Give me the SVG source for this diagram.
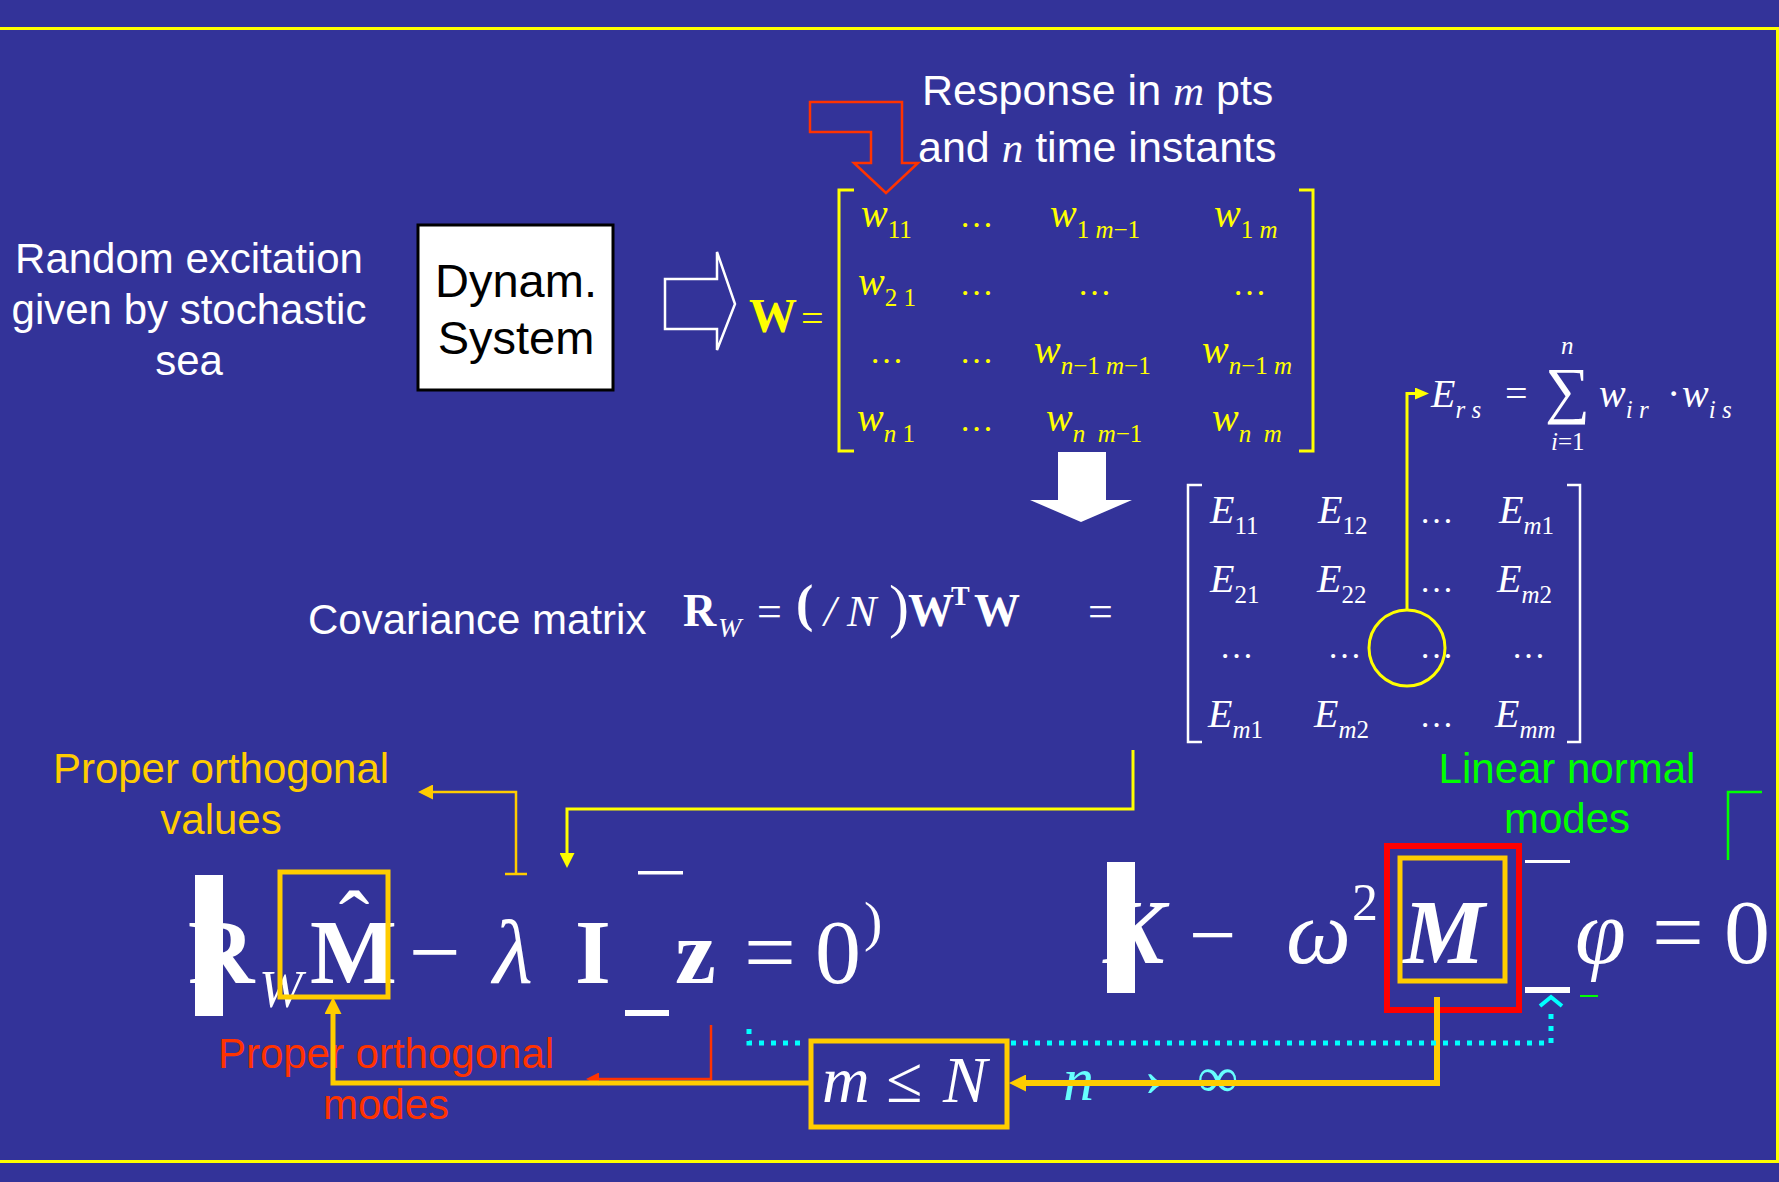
<svg xmlns="http://www.w3.org/2000/svg" width="1779" height="1182" viewBox="0 0 1779 1182">
<style>
.sans{font-family:"Liberation Sans",Arial,sans-serif}
.serif{font-family:"Liberation Serif","Times New Roman",serif}
.it{font-style:italic}
.up{font-style:normal}
.bd{font-weight:bold}
.lab{font-size:42px}
.wm{fill:#ffff00;font-size:40px;font-style:italic}
.em{fill:#ffffff;font-size:40px;font-style:italic}
.sb{font-size:25px;font-style:normal}
.dots{font-size:34px}
.big{font-size:92px;fill:#fff}
</style>
<defs>
<marker id="mY" viewBox="0 0 15 15" refX="0" refY="7.5" markerWidth="15" markerHeight="15" markerUnits="userSpaceOnUse" orient="auto"><path d="M0,0 L15,7.5 L0,15 z" fill="#ffff00"/></marker>
<marker id="mYs" viewBox="0 0 14 12" refX="0" refY="6" markerWidth="14" markerHeight="12" markerUnits="userSpaceOnUse" orient="auto"><path d="M0,0 L14,6 L0,12 z" fill="#ffff00"/></marker>
<marker id="mOs" viewBox="0 0 15 15" refX="0" refY="7.5" markerWidth="15" markerHeight="15" markerUnits="userSpaceOnUse" orient="auto"><path d="M0,0 L15,7.5 L0,15 z" fill="#ffcc00"/></marker>
<marker id="mO" viewBox="0 0 17 17" refX="0" refY="8.5" markerWidth="17" markerHeight="17" markerUnits="userSpaceOnUse" orient="auto"><path d="M0,0 L17,8.5 L0,17 z" fill="#ffcc00"/></marker>
<marker id="mR" viewBox="0 0 13 13" refX="0" refY="6.5" markerWidth="13" markerHeight="13" markerUnits="userSpaceOnUse" orient="auto"><path d="M0,0 L13,6.5 L0,13 z" fill="#ff3300"/></marker>
</defs>
<rect x="0" y="0" width="1779" height="1182" fill="#333399"/>
<path d="M0,28.5 H1777.5 V1161.5 H0" fill="none" stroke="#ffff00" stroke-width="3"/>

<g id="excitation-text" class="sans lab" fill="#fff" text-anchor="middle">
<text x="189" y="273">Random excitation</text>
<text x="189" y="324">given by stochastic</text>
<text x="189" y="375">sea</text>
</g>

<g id="dynam-system">
<rect x="418" y="225" width="195" height="165" fill="#fff" stroke="#000" stroke-width="3"/>
<text class="sans" x="516" y="297" font-size="47" text-anchor="middle" fill="#000">Dynam.</text>
<text class="sans" x="516" y="354" font-size="47" text-anchor="middle" fill="#000">System</text>
</g>

<g id="hollow-arrow">
<polygon points="665,279 717,279 717,252 735,304 717,350 717,329 665,329" fill="none" stroke="#fff" stroke-width="2.5"/>
</g>

<g id="response-label" class="sans" font-size="43" fill="#fff">
<text x="922" y="105">Response in <tspan class="serif it">m</tspan> pts</text>
<text x="918" y="162">and <tspan class="serif it">n</tspan> time instants</text>
</g>

<g id="red-arrow">
<polygon points="810,102 902,102 902,163 918,163 886,193 854,163 871,163 871,132 810,132" fill="none" stroke="#ff3300" stroke-width="2.5"/>
</g>

<g id="w-matrix" class="serif">
<text x="749" y="332" font-size="48" font-weight="bold" fill="#ffff00">W</text>
<text x="801" y="332" font-size="40" fill="#ffff00">=</text>
<path d="M854,190 H839 V451 H854 M1299,190 H1313 V451 H1299" fill="none" stroke="#ffff00" stroke-width="3"/>
<text class="wm" x="861" y="227">w<tspan class="sb" dy="11">11</tspan></text>
<text class="wm dots up" x="962" y="227">…</text>
<text class="wm" x="1050" y="227">w<tspan class="sb" dy="11">1 <tspan class="it">m</tspan>−1</tspan></text>
<text class="wm" x="1214" y="227">w<tspan class="sb" dy="11">1 <tspan class="it">m</tspan></tspan></text>
<text class="wm" x="858" y="295">w<tspan class="sb" dy="11">2 1</tspan></text>
<text class="wm dots up" x="962" y="295">…</text>
<text class="wm dots up" x="1080" y="295">…</text>
<text class="wm dots up" x="1235" y="295">…</text>
<text class="wm dots up" x="872" y="363">…</text>
<text class="wm dots up" x="962" y="363">…</text>
<text class="wm" x="1034" y="363">w<tspan class="sb" dy="11"><tspan class="it">n</tspan>−1 <tspan class="it">m</tspan>−1</tspan></text>
<text class="wm" x="1202" y="363">w<tspan class="sb" dy="11"><tspan class="it">n</tspan>−1 <tspan class="it">m</tspan></tspan></text>
<text class="wm" x="857" y="431">w<tspan class="sb" dy="11"><tspan class="it">n</tspan> 1</tspan></text>
<text class="wm dots up" x="962" y="431">…</text>
<text class="wm" x="1046" y="431">w<tspan class="sb" dy="11" xml:space="preserve"><tspan class="it">n</tspan>  <tspan class="it">m</tspan>−1</tspan></text>
<text class="wm" x="1212" y="431">w<tspan class="sb" dy="11" xml:space="preserve"><tspan class="it">n</tspan>  <tspan class="it">m</tspan></tspan></text>
</g>

<g id="down-arrow">
<polygon points="1058,452 1106,452 1106,500 1132,500 1081,522 1030,500 1058,500" fill="#fff"/>
</g>

<g id="covariance" fill="#fff">
<text class="sans lab" x="308" y="634">Covariance matrix</text>
<text class="serif bd" x="683" y="626" font-size="46">R</text>
<text class="serif it" x="718" y="637" font-size="28">W</text>
<text class="serif" x="757" y="626" font-size="44">=</text>
<text class="serif bd" x="796" y="621" font-size="52">(</text>
<text class="serif it" x="824" y="626" font-size="44">/</text>
<text class="serif it" x="847" y="626" font-size="44">N</text>
<text class="serif" x="889" y="626" font-size="60">)</text>
<text class="serif bd" x="908" y="626" font-size="46">W</text>
<text class="serif bd" x="951" y="605" font-size="28">T</text>
<text class="serif bd" x="974" y="626" font-size="46">W</text>
<text class="serif" x="1088" y="626" font-size="44">=</text>
</g>

<g id="e-matrix" class="serif">
<path d="M1202,485 H1188 V742 H1202 M1567,485 H1580 V742 H1567" fill="none" stroke="#fff" stroke-width="2.5"/>
<text class="em" x="1210" y="523">E<tspan class="sb" dy="11">11</tspan></text>
<text class="em" x="1318" y="523">E<tspan class="sb" dy="11">12</tspan></text>
<text class="em dots up" x="1422" y="523">…</text>
<text class="em" x="1499" y="523">E<tspan class="sb" dy="11"><tspan class="it">m</tspan>1</tspan></text>
<text class="em" x="1210" y="592">E<tspan class="sb" dy="11">21</tspan></text>
<text class="em" x="1317" y="592">E<tspan class="sb" dy="11">22</tspan></text>
<text class="em dots up" x="1422" y="592">…</text>
<text class="em" x="1497" y="592">E<tspan class="sb" dy="11"><tspan class="it">m</tspan>2</tspan></text>
<text class="em dots up" x="1222" y="658">…</text>
<text class="em dots up" x="1330" y="658">…</text>
<text class="em dots up" x="1422" y="658">…</text>
<text class="em dots up" x="1514" y="658">…</text>
<text class="em" x="1208" y="727">E<tspan class="sb" dy="11"><tspan class="it">m</tspan>1</tspan></text>
<text class="em" x="1314" y="727">E<tspan class="sb" dy="11"><tspan class="it">m</tspan>2</tspan></text>
<text class="em dots up" x="1422" y="727">…</text>
<text class="em" x="1495" y="727">E<tspan font-size="25" dy="11">mm</tspan></text>
<circle cx="1407" cy="648" r="38" fill="none" stroke="#ffff00" stroke-width="3"/>
</g>

<g id="ers-formula" class="serif" fill="#fff">
<text class="it" x="1431" y="407" font-size="40">E<tspan font-size="25" dy="11">r s</tspan></text>
<text x="1505" y="407" font-size="40">=</text>
<text x="1545" y="411" font-size="63">∑</text>
<text class="it" x="1561" y="354" font-size="25">n</text>
<text x="1551" y="450" font-size="25"><tspan class="it">i</tspan>=1</text>
<text class="it" x="1599" y="407" font-size="40">w<tspan font-size="25" dy="11">i r</tspan></text>
<text x="1667" y="407" font-size="40">·</text>
<text class="it" x="1682" y="407" font-size="40">w<tspan font-size="25" dy="11">i s</tspan></text>
</g>

<g id="pov-label" class="sans lab" fill="#ffcc00" text-anchor="middle">
<text x="221" y="783">Proper orthogonal</text>
<text x="221" y="834">values</text>
</g>

<g id="lnm-label" class="sans lab" fill="#00ff00" text-anchor="middle">
<text x="1567" y="783">Linear normal</text>
<text x="1567" y="833">modes</text>
</g>

<g id="pom-label" class="sans lab" fill="#ff3300" text-anchor="middle">
<text x="386" y="1068">Proper orthogonal</text>
<text x="386" y="1119">modes</text>
</g>

<g id="pod-equation" class="serif">
<text class="big bd" x="188" y="983">R</text>
<rect x="195" y="875" width="28" height="141" fill="#fff"/>
<text class="it" x="259" y="1007" font-size="52" fill="#fff">W</text>
<text class="big bd" x="310" y="983">M</text>
<text class="big" x="354" y="954" text-anchor="middle">ˆ</text>
<text class="big" x="409" y="983">−</text>
<text class="big it" x="493" y="983">λ</text>
<text class="big bd" x="575" y="983">I</text>
<rect x="638" y="871" width="45" height="3.5" fill="#fff"/>
<rect x="625" y="1010" width="44" height="6" fill="#fff"/>
<text class="big bd" x="675" y="983">z</text>
<text class="big" x="744" y="983">=</text>
<text class="big" x="815" y="983">0</text>
<text x="864" y="940" font-size="55" fill="#fff">)</text>
<rect x="280" y="872" width="108" height="125" fill="none" stroke="#ffcc00" stroke-width="5"/>
</g>

<g id="modal-equation" class="serif">
<text class="big bd it" x="1103" y="963">K</text>
<rect x="1107" y="862" width="28" height="131" fill="#fff"/>
<text x="1189" y="963" font-size="84" fill="#fff">−</text>
<text class="big it" x="1286" y="963">ω</text>
<text x="1352" y="920" font-size="52" fill="#fff">2</text>
<text class="big bd it" x="1403" y="963">M</text>
<rect x="1387" y="846" width="132" height="164" fill="none" stroke="#ff0000" stroke-width="6"/>
<rect x="1400" y="858" width="105" height="123" fill="none" stroke="#ffcc00" stroke-width="5"/>
<rect x="1525" y="860" width="45" height="3" fill="#fff"/>
<rect x="1525" y="987" width="45" height="6" fill="#fff"/>
<text class="big it" x="1575" y="963">φ</text>
<text class="big" x="1652" y="963">=</text>
<text class="big" x="1724" y="963">0</text>
<path d="M1580,996 H1598" stroke="#00ff00" stroke-width="2"/>
</g>

<g id="m-le-N" class="serif">
<rect x="811" y="1041" width="196" height="86" fill="none" stroke="#ffcc00" stroke-width="5"/>
<text x="822" y="1102" font-size="66" fill="#fff"><tspan class="it">m</tspan><tspan x="886">≤</tspan><tspan x="943" class="it">N</tspan></text>
</g>

<g id="n-infty" class="serif" fill="#66ffff">
<text class="it" x="1063" y="1100" font-size="62">n</text>
<text x="1178" y="1097" font-size="80" text-anchor="end">→</text>
<text x="1197" y="1097" font-size="58">∞</text>
</g>

<g id="connectors" fill="none">
<path d="M516,875 V792 H433" stroke="#ffcc00" stroke-width="2.5" marker-end="url(#mOs)"/>
<path d="M505,874 H527" stroke="#ffcc00" stroke-width="2.5"/>
<path d="M1133,750 V809 H567 V853" stroke="#ffff00" stroke-width="3" marker-end="url(#mY)"/>
<path d="M1407,610 V393.5 H1415" stroke="#ffff00" stroke-width="3" marker-end="url(#mYs)"/>
<path d="M1728,860 V792 H1762" stroke="#00ff00" stroke-width="2.5"/>
<path d="M711,1025 V1079 H599" stroke="#ff3300" stroke-width="2.5" marker-end="url(#mR)"/>
<path d="M809,1083 H333 V1014" stroke="#ffcc00" stroke-width="5" marker-end="url(#mO)"/>
<path d="M1437,997 V1083 H1026" stroke="#ffcc00" stroke-width="6" marker-end="url(#mO)"/>
<path d="M749,1029 V1043 H806 M1011,1043 H1551 V1007" stroke="#00ffff" stroke-width="5" stroke-dasharray="5 7"/>
<path d="M1540,1006 L1551,997 L1562,1006" stroke="#00ffff" stroke-width="4"/>
</g>
</svg>
